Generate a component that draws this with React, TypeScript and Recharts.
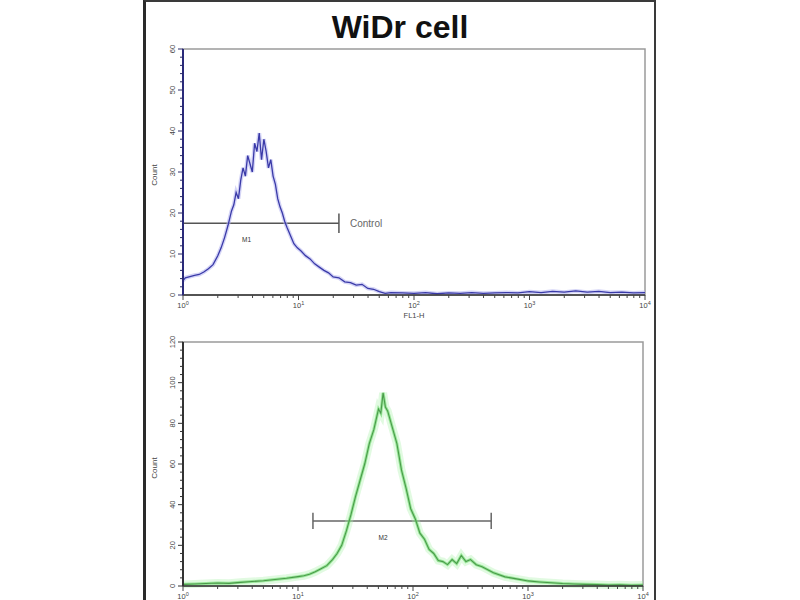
import React from 'react';
import { LineChart, Line, XAxis, YAxis, ReferenceLine, ReferenceDot, ReferenceArea } from 'recharts';

// ---------- data ----------
const decadeTicks = [0, 1, 2, 3, 4];
const decadeExponents = ['0', '1', '2', '3', '4'];

const controlLogFL1 = [0, 0.02, 0.06, 0.1, 0.14, 0.18, 0.22, 0.26, 0.3, 0.33, 0.36, 0.39, 0.42, 0.44, 0.46, 0.48, 0.5, 0.52, 0.54, 0.56, 0.58, 0.6, 0.62, 0.64, 0.66, 0.68, 0.7, 0.72, 0.74, 0.76, 0.78, 0.8, 0.82, 0.84, 0.86, 0.88, 0.9, 0.93, 0.96, 0.99, 1.02, 1.06, 1.1, 1.14, 1.18, 1.22, 1.26, 1.3, 1.35, 1.4, 1.45, 1.5, 1.55, 1.6, 1.65, 1.7, 1.75, 1.8, 1.9, 2.0, 2.1, 2.2, 2.3, 2.4, 2.5, 2.6, 2.7, 2.8, 2.9, 3.0, 3.1, 3.2, 3.3, 3.4, 3.5, 3.6, 3.7, 3.8, 3.9, 4.0];
const controlCount = [3.5, 4.2, 4.5, 4.8, 5, 5.6, 6.4, 7.4, 9.5, 11.5, 14, 17, 20.5, 22, 25, 23.5, 28, 31, 29, 34, 32, 30, 37, 35, 39.5, 33, 38, 35, 31, 33, 29, 27, 23.5, 21.5, 20, 18, 16.5, 14.5, 12.5, 11.5, 10.8, 9.6, 8.8, 7.6, 6.8, 6, 5.4, 4.4, 4.2, 3.2, 3, 2.4, 2.6, 1.6, 1.4, 0.8, 0.4, 0.6, 0.5, 0.4, 0.6, 0.3, 0.5, 0.4, 0.6, 0.4, 0.5, 0.6, 0.5, 0.8, 0.6, 0.9, 0.7, 1.0, 0.7, 0.9, 0.6, 0.7, 0.5, 0.6];

const sampleLogFL1 = [0, 0.1, 0.2, 0.3, 0.4, 0.5, 0.6, 0.7, 0.8, 0.9, 1.0, 1.05, 1.1, 1.15, 1.2, 1.25, 1.3, 1.34, 1.38, 1.42, 1.46, 1.5, 1.54, 1.58, 1.62, 1.66, 1.7, 1.72, 1.74, 1.76, 1.78, 1.82, 1.86, 1.9, 1.94, 1.98, 2.02, 2.06, 2.1, 2.14, 2.18, 2.22, 2.26, 2.3, 2.34, 2.38, 2.42, 2.46, 2.5, 2.55, 2.6, 2.65, 2.7, 2.8, 2.9, 3.0, 3.1, 3.2, 3.3, 3.4, 3.5, 3.6, 3.7, 3.8, 3.9, 4.0];
const sampleCount = [0.8, 1, 1.2, 1.5, 1.3, 1.8, 2.2, 2.6, 3.2, 3.8, 4.6, 5, 5.8, 7, 8.5, 10, 13, 16, 20, 27, 35, 44, 52, 60, 70, 77, 87, 85, 95, 88, 86, 78, 70, 57, 48, 38, 33, 26, 23, 18, 16, 12.5, 12, 10.5, 13, 11, 15, 12, 13, 10.5, 9.5, 8, 6.5, 4.5, 3.5, 2.5, 2, 1.6, 1.2, 1.0, 0.8, 0.7, 0.5, 0.6, 0.4, 0.5];

const controlCountTicks = [0, 10, 20, 30, 40, 50, 60];
const sampleCountTicks = [0, 20, 40, 60, 80, 100, 120];

const controlGate = { name: 'M1', from: 0, to: 1.35, level: 17.5, halfTick: 2.4, labelX: 0.55, labelY: 13.4 };
const sampleGate = { name: 'M2', from: 1.13, to: 2.68, level: 32, halfTick: 4, labelX: 1.74, labelY: 24 };

// ---------- derived ----------
const controlData = controlLogFL1.map((x, i) => ({ x, count: controlCount[i] }));
const sampleData = sampleLogFL1.map((x, i) => ({ x, count: sampleCount[i] }));

const xMinorTicks: number[] = [];
decadeTicks.forEach((d) => {
  xMinorTicks.push(d);
  if (d < 4) for (let k = 2; k <= 9; k++) xMinorTicks.push(d + Math.log10(k));
});

const yMinor = (majors: number[]) => {
  const out: number[] = [];
  const step = (majors[1] - majors[0]) / 5;
  const max = majors[majors.length - 1];
  for (let v = 0; v <= max + 1e-9; v += step) out.push(Math.round(v * 1000) / 1000);
  return out;
};

const FONT = 'Liberation Sans, Arial, sans-serif';

const XTick = (props: any) => {
  const { x, y, payload } = props;
  const v = payload.value;
  const major = Math.abs(v - Math.round(v)) < 1e-6;
  const idx = Math.round(v);
  return (
    <g>
      <line x1={x} x2={x} y1={y} y2={y + (major ? 5 : 3)} stroke="#444" strokeWidth={1} />
      {major && (
        <text x={x} y={y + 13} textAnchor="middle" fontSize={7.5} fill="#444" fontFamily={FONT}>
          <tspan>10</tspan>
          <tspan dy={-3} fontSize={5.5}>{decadeExponents[idx]}</tspan>
        </text>
      )}
    </g>
  );
};

const makeYTick = (majors: number[], color: string) => (props: any) => {
  const { x, y, payload } = props;
  const v = payload.value;
  const major = majors.some((m) => Math.abs(m - v) < 1e-6);
  return (
    <g>
      <line x1={x - (major ? 5 : 3)} x2={x} y1={y} y2={y} stroke={color} strokeWidth={1} />
      {major && (
        <text transform={`translate(${x - 8},${y}) rotate(-90)`} textAnchor="middle" fontSize={7.5} fill="#444" fontFamily={FONT}>
          {v}
        </text>
      )}
    </g>
  );
};

const Gate = (g: any, color: string) => [
  <ReferenceLine key="h" segment={[{ x: g.from, y: g.level }, { x: g.to, y: g.level }]} stroke={color} strokeWidth={1.5} ifOverflow="visible" />,
  <ReferenceLine key="l" segment={[{ x: g.from, y: g.level - g.halfTick }, { x: g.from, y: g.level + g.halfTick }]} stroke={color} strokeWidth={1.5} ifOverflow="visible" />,
  <ReferenceLine key="r" segment={[{ x: g.to, y: g.level - g.halfTick }, { x: g.to, y: g.level + g.halfTick }]} stroke={color} strokeWidth={1.5} ifOverflow="visible" />,
  <ReferenceDot key="t" x={g.labelX} y={g.labelY} r={1} fill="none" stroke="none" ifOverflow="visible"
    label={{ value: g.name, position: 'center', fontSize: 6.5, fill: '#333', fontFamily: FONT }} />,
];

export default function App() {
  return (
    <div style={{ position: 'absolute', left: 0, top: 0, width: 800, height: 600, background: '#fff', overflow: 'hidden' }}>
      <div style={{ position: 'absolute', left: 143, top: 0, width: 508, height: 640, borderLeft: '3px solid #2a2a2a', borderRight: '2px solid #3a3a3a', borderTop: '2px solid #3a3a3a' }} />

      <svg width={800} height={600} style={{ position: 'absolute', left: 0, top: 0 }}>
        <text x={400} y={38} textAnchor="middle" fontSize={32} fontWeight="bold" fontFamily={FONT} fill="#111">WiDr cell</text>
        <text transform="translate(157,175) rotate(-90)" textAnchor="middle" fontSize={8} fill="#444" fontFamily={FONT}>Count</text>
        <text transform="translate(157,468) rotate(-90)" textAnchor="middle" fontSize={8} fill="#444" fontFamily={FONT}>Count</text>
      </svg>

      <div style={{ position: 'absolute', left: 0, top: 0 }}>
        <LineChart width={800} height={330} data={controlData} margin={{ top: 49, right: 155, bottom: 15, left: 163 }}>
          <ReferenceArea x1={0} x2={4} y1={0} y2={60} fill="none" stroke="#9a9a9a" strokeWidth={1.5} />
          <XAxis dataKey="x" type="number" domain={[0, 4]} ticks={xMinorTicks} interval={0} height={20}
            tickSize={0} tickMargin={0} tick={<XTick />} axisLine={{ stroke: '#333', strokeWidth: 1.5 }}
            label={{ value: 'FL1-H', position: 'bottom', offset: -2, fontSize: 7.5, fill: '#444', fontFamily: FONT }} />
          <YAxis type="number" domain={[0, 60]} ticks={yMinor(controlCountTicks)} interval={0} width={20}
            tickSize={0} tickMargin={0} tick={makeYTick(controlCountTicks, '#2a2a6a')} axisLine={{ stroke: '#2a2a7a', strokeWidth: 2 }} />
          {Gate(controlGate, '#555')}
          <ReferenceDot x={controlGate.to} y={controlGate.level} r={1} fill="none" stroke="none" ifOverflow="visible"
            label={{ value: 'Control', position: 'right', offset: 10, fontSize: 10, fill: '#666', fontFamily: FONT }} />
          <Line dataKey="count" type="linear" stroke="#b8b8f0" strokeWidth={4} strokeOpacity={0.6} dot={false} isAnimationActive={false} />
          <Line dataKey="count" type="linear" stroke="#3a3aa8" strokeWidth={1.3} dot={false} isAnimationActive={false} />
        </LineChart>
      </div>

      <div style={{ position: 'absolute', left: 0, top: 320 }}>
        <LineChart width={800} height={290} data={sampleData} margin={{ top: 22, right: 157, bottom: 4, left: 163 }}>
          <ReferenceArea x1={0} x2={4} y1={0} y2={120} fill="none" stroke="#9a9a9a" strokeWidth={1.5} />
          <XAxis dataKey="x" type="number" domain={[0, 4]} ticks={xMinorTicks} interval={0} height={20}
            tickSize={0} tickMargin={0} tick={<XTick />} axisLine={{ stroke: '#333', strokeWidth: 1.5 }} />
          <YAxis type="number" domain={[0, 120]} ticks={yMinor(sampleCountTicks)} interval={0} width={20}
            tickSize={0} tickMargin={0} tick={makeYTick(sampleCountTicks, '#333')} axisLine={{ stroke: '#333', strokeWidth: 2 }} />
          {Gate(sampleGate, '#666')}
          <Line dataKey="count" type="linear" stroke="#a8f0a8" strokeWidth={8} strokeOpacity={0.35} dot={false} isAnimationActive={false} />
          <Line dataKey="count" type="linear" stroke="#66d966" strokeWidth={3} strokeOpacity={0.6} dot={false} isAnimationActive={false} />
          <Line dataKey="count" type="linear" stroke="#4a9a4a" strokeWidth={1.1} dot={false} isAnimationActive={false} />
        </LineChart>
      </div>
    </div>
  );
}
